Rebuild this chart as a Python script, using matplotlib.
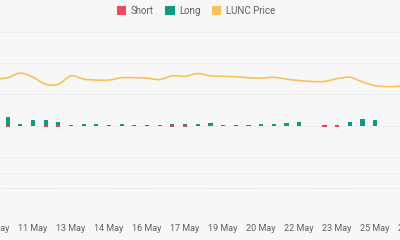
import matplotlib
matplotlib.use("Agg")
import matplotlib.pyplot as plt
from matplotlib.patches import Patch, PathPatch
from matplotlib.path import Path
import numpy as np

# 12-hour periods starting 10 May 00:00 (index 0)
tick_idx = [0, 3, 6, 9, 12, 15, 18, 21, 24, 27, 30, 33]
tick_labels = ["10 May", "11 May", "13 May", "14 May", "16 May", "17 May",
               "19 May", "20 May", "22 May", "23 May", "25 May", "26 May"]

long_vals = [0.05, 0.28, 0.06, 0.19, 0.17, 0.10, 0.03, 0.05, 0.05, 0.03,
             0.05, 0.02, 0.03, 0.03, 0.04, 0.04, 0.04, 0.07, 0.02, 0.03,
             0.03, 0.04, 0.04, 0.08, 0.13, 0.0, 0.01, 0.01, 0.12, 0.20,
             0.19, 0.0, 0.0, 0.0]
short_vals = [0.01, 0.06, 0.01, 0.01, 0.03, 0.06, 0.0, 0.01, 0.0, 0.01,
              0.0, 0.0, 0.0, 0.0, 0.05, 0.05, 0.0, 0.01, 0.0, 0.0,
              0.0, 0.0, 0.01, 0.0, 0.0, 0.0, 0.04, 0.03, 0.0, 0.0,
              0.0, 0.0, 0.0, 0.0]
price = [0.0000899, 0.0000902, 0.0000912, 0.0000903, 0.0000888, 0.0000888,
         0.0000906, 0.0000899, 0.0000897, 0.0000897, 0.0000902, 0.0000902,
         0.0000901, 0.0000898, 0.0000906, 0.0000905, 0.0000911, 0.0000906,
         0.0000905, 0.0000904, 0.0000902, 0.0000901, 0.0000903, 0.0000899,
         0.0000896, 0.0000894, 0.0000894, 0.0000900, 0.0000903, 0.0000893,
         0.0000885, 0.0000883, 0.0000884, 0.0000885]

RED = "#F6465D"
GREEN = "#0B9B80"
YELLOW = "#F8C257"
BG = "#F7F7F7"
GRID = "#E4E4E4"
TXT = "#606060"

plt.rcParams['font.family'] = ['Roboto', 'DejaVu Sans']

fig = plt.figure(figsize=(4, 2.4), dpi=100, facecolor=BG)
ax = fig.add_axes([-0.05, 0.0854, 1.1, 0.7825])
ax.set_facecolor(BG)
x = np.arange(len(long_vals))
ax.bar(x, long_vals, width=0.33, color=GREEN, zorder=3)
ax.bar(x, [-v for v in short_vals], width=0.33, color=RED, zorder=3)
ax.set_ylim(-3, 3)
ax.set_yticks([-3, -2, -1, 0, 1, 2, 3])
ax.set_xlim(-1.184, 33.54)
ax.set_xticks(tick_idx)
ax.set_xticklabels(tick_labels)
ax.tick_params(axis='x', length=0, pad=3.5, labelsize=6.5, labelcolor=TXT)
ax.tick_params(axis='y', length=0, labelleft=False)
ax.grid(axis='y', color=GRID, linestyle=(0, (3, 2)), linewidth=0.6, zorder=0)
for s in ax.spines.values():
    s.set_visible(False)

ax2 = ax.twinx()
# smooth rendering of the price series (cubic Bezier through the data points)
px = np.arange(len(price), dtype=float)
py = np.array(price)
verts = [(px[0], py[0])]
codes = [Path.MOVETO]
t = 1.0 / 6.0
for k in range(len(px) - 1):
    p0 = (px[max(k - 1, 0)], py[max(k - 1, 0)])
    p1 = (px[k], py[k])
    p2 = (px[k + 1], py[k + 1])
    p3 = (px[min(k + 2, len(px) - 1)], py[min(k + 2, len(px) - 1)])
    c1 = (p1[0] + (p2[0] - p0[0]) * t, p1[1] + (p2[1] - p0[1]) * t)
    c2 = (p2[0] - (p3[0] - p1[0]) * t, p2[1] - (p3[1] - p1[1]) * t)
    verts += [c1, c2, p2]
    codes += [Path.CURVE4] * 3
ax2.add_patch(PathPatch(Path(verts, codes), facecolor='none', edgecolor=YELLOW,
                        linewidth=1.2, zorder=4))
ax2.set_ylim(0.00006, 0.0001)
ax2.set_yticks([0.00007])
ax2.tick_params(axis='y', length=0, labelright=False)
ax2.grid(axis='y', color=GRID, linestyle=(0, (3, 2)), linewidth=0.6)
for s in ax2.spines.values():
    s.set_visible(False)

handles = [Patch(facecolor=RED, label="Short"),
           Patch(facecolor=GREEN, label="Long"),
           Patch(facecolor=YELLOW, label="LUNC Price")]
fig.legend(handles=handles, loc='center', bbox_to_anchor=(0.49, 0.955), ncol=3,
           frameon=False, fontsize=7, handlelength=0.95, handleheight=0.95,
           handletextpad=0.45, columnspacing=1.2, labelcolor=TXT)

fig.savefig("out.png", dpi=100, facecolor=BG)
